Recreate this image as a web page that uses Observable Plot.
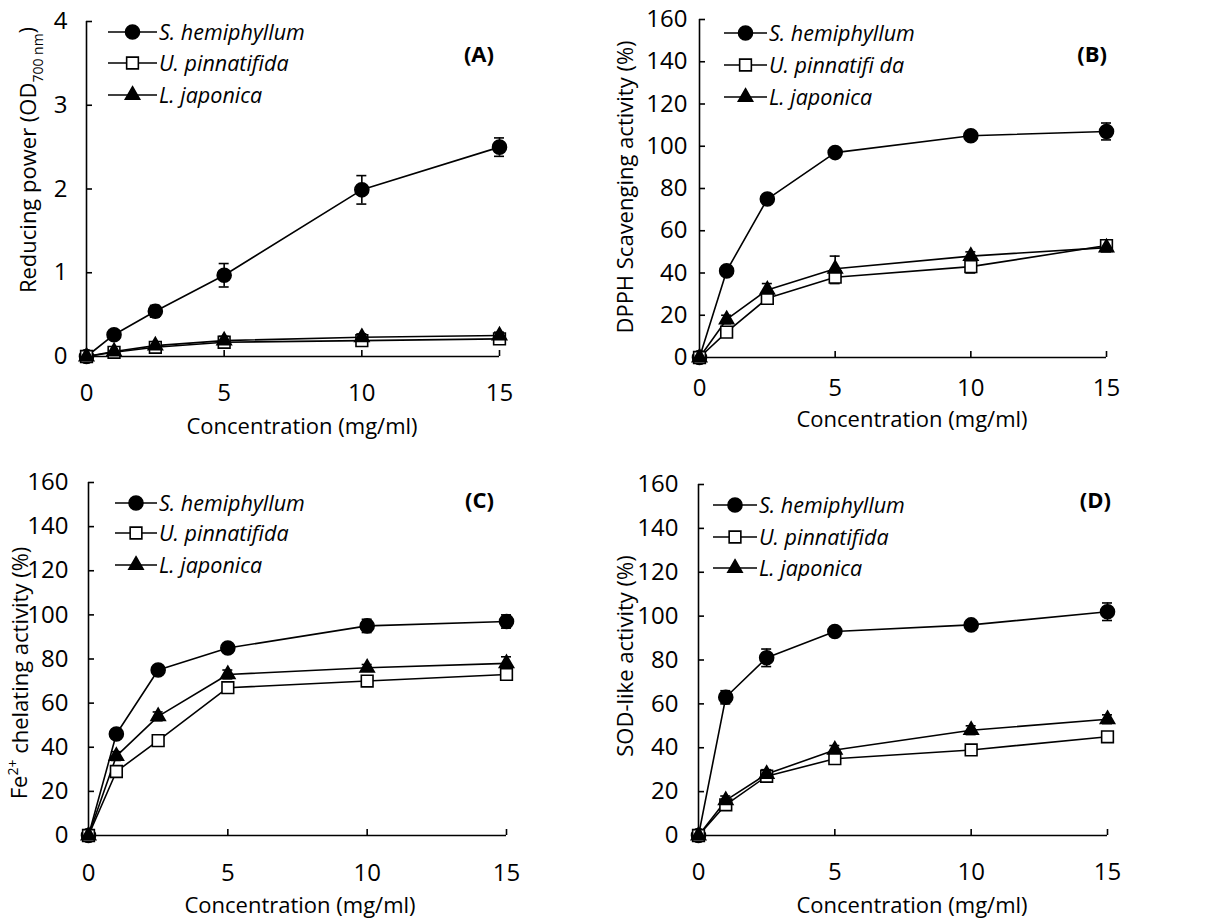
<!DOCTYPE html>
<html><head><meta charset="utf-8">
<script src="https://cdn.jsdelivr.net/npm/d3@7"></script>
<script src="https://cdn.jsdelivr.net/npm/@observablehq/plot@0.6"></script>
<style>
body{margin:0;background:#fff;}
#wrap{position:relative;width:1208px;height:918px;overflow:hidden;background:#fff;}
.panel{position:absolute;}
</style></head><body><div id="wrap"></div>
<script>
// ---- data ----
const conc = [0, 1, 2.5, 5, 10, 15];
const xTicks = [0, 5, 10, 15];
const speciesNames = ["S. hemiphyllum", "U. pinnatifida", "L. japonica"];
const speciesNamesB = ["S. hemiphyllum", "U. pinnatifi da", "L. japonica"];
const xTitle = "Concentration (mg/ml)";

// (A) Reducing power
const reducingTicks = [0, 1, 2, 3, 4];
const reducingS = [0, 0.26, 0.54, 0.97, 1.99, 2.50];
const reducingSErr = [0, 0.03, 0.07, 0.14, 0.17, 0.11];
const reducingU = [0, 0.05, 0.11, 0.17, 0.19, 0.21];
const reducingUErr = [0, 0.03, 0.03, 0.04, 0.04, 0.03];
const reducingL = [0, 0.06, 0.13, 0.19, 0.23, 0.25];
const reducingLErr = [0, 0.02, 0.03, 0.05, 0.04, 0.04];

// (B) DPPH scavenging
const pctTicks = [0, 20, 40, 60, 80, 100, 120, 140, 160];
const dpphS = [0, 41, 75, 97, 105, 107];
const dpphSErr = [0, 1.5, 1.5, 1.5, 1.5, 4];
const dpphU = [0, 12, 28, 38, 43, 53];
const dpphUErr = [0, 2, 2, 3, 3, 2];
const dpphL = [0, 18, 32, 42, 48, 52];
const dpphLErr = [0, 2, 3, 6, 2, 2];

// (C) Fe2+ chelating
const chelS = [0, 46, 75, 85, 95, 97];
const chelSErr = [0, 2, 1.5, 1.5, 3, 3];
const chelU = [0, 29, 43, 67, 70, 73];
const chelUErr = [0, 2, 2, 2, 2, 1.5];
const chelL = [0, 36, 54, 73, 76, 78];
const chelLErr = [0, 2, 2, 2, 1.5, 3];

// (D) SOD-like activity
const sodS = [0, 63, 81, 93, 96, 102];
const sodSErr = [0, 3, 4, 1, 1, 4];
const sodU = [0, 14, 27, 35, 39, 45];
const sodUErr = [0, 2, 2, 1.5, 2, 2];
const sodL = [0, 16, 28, 39, 48, 53];
const sodLErr = [0, 2, 2, 2, 2, 2];

// ---- drawing ----
const FONT = '"Open Sans", sans-serif';
const SW = 1.6;
const TICKFS = 24;
const symbols = [
  {name: "circle", sym: d3.symbolCircle, r: 7, fill: "black"},
  {name: "square", sym: d3.symbolSquare, r: 6.6, fill: "white"},
  {name: "triangle", sym: d3.symbolTriangle, r: 5.3, fill: "black"}
];

function panel(cfg) {
  const rows = [];
  cfg.series.forEach((s, si) => conc.forEach((c, i) =>
    rows.push({sp: si, x: c, y: s.values[i], e: s.errors[i]})));
  const errRows = rows.filter(d => d.e > 0);
  const marks = [
    Plot.line(rows, {x: "x", y: "y", z: "sp", stroke: "black", strokeWidth: SW}),
    Plot.ruleX(errRows, {x: "x", y1: d => d.y - d.e, y2: d => d.y + d.e, stroke: "black", strokeWidth: SW}),
    Plot.ruleY(errRows, {x1: "x", x2: "x", y: d => d.y + d.e, insetLeft: -5, insetRight: -5, stroke: "black", strokeWidth: SW}),
    Plot.ruleY(errRows, {x1: "x", x2: "x", y: d => d.y - d.e, insetLeft: -5, insetRight: -5, stroke: "black", strokeWidth: SW}),
    Plot.ruleY([0], {stroke: "black", strokeWidth: SW}),
    Plot.ruleX([0], {stroke: "black", strokeWidth: SW}),
    Plot.axisX({ticks: xTicks, tickSize: 0, tickPadding: cfg.xPad, label: null, fontSize: TICKFS, tickFormat: d => String(d)}),
    Plot.axisX({ticks: xTicks, tickSize: 6, dy: -6, tickFormat: () => "", label: null, strokeWidth: SW}),
    Plot.axisY({ticks: cfg.yTicks, tickSize: 0, tickPadding: cfg.yPad, label: null, fontSize: TICKFS, tickFormat: d => String(d)}),
    Plot.axisY({ticks: cfg.yTicks, tickSize: 6, dx: 6, tickFormat: () => "", label: null, strokeWidth: SW})
  ];
  symbols.forEach((s, si) => {
    marks.push(Plot.dot(rows.filter(d => d.sp === si), {
      x: "x", y: "y", symbol: s.name, r: s.r, fill: s.fill, stroke: "black", strokeWidth: SW
    }));
  });
  const chart = Plot.plot({
    width: cfg.width, height: cfg.height,
    marginLeft: cfg.ml, marginRight: cfg.mr, marginTop: cfg.mt, marginBottom: cfg.mb,
    x: {domain: [0, 15]},
    y: {domain: [0, cfg.yMax]},
    style: {fontFamily: FONT, fontSize: "22px", color: "black", background: "white", overflow: "visible"},
    marks
  });
  const div = document.createElement("div");
  div.className = "panel";
  div.style.left = cfg.left + "px";
  div.style.top = cfg.top + "px";
  div.appendChild(chart);
  document.getElementById("wrap").appendChild(div);

  const svg = d3.select(chart);
  // legend
  const lg = svg.append("g").attr("text-anchor", "start");
  cfg.names.forEach((n, i) => {
    const y = cfg.legY[i];
    lg.append("line").attr("x1", cfg.legX1).attr("x2", cfg.legX2).attr("y1", y).attr("y2", y)
      .attr("stroke", "black").attr("stroke-width", SW);
    const s = symbols[i];
    lg.append("path").attr("d", d3.symbol(s.sym, s.r * s.r * Math.PI)())
      .attr("transform", `translate(${(cfg.legX1 + cfg.legX2) / 2},${y})`)
      .attr("fill", s.fill).attr("stroke", "black").attr("stroke-width", SW);
    lg.append("text").attr("x", cfg.legX2 + 2).attr("y", y).attr("dy", "0.36em")
      .attr("text-anchor", "start")
      .attr("font-family", FONT).attr("font-style", "italic").attr("font-size", 21.5)
      .attr("fill", "black").text(n);
  });
  // panel label
  svg.append("text").attr("x", cfg.labX).attr("y", cfg.labY).attr("text-anchor", "end")
    .attr("font-family", FONT).attr("font-weight", "bold").attr("font-size", 22)
    .attr("fill", "black").text(cfg.label);
  // x title
  svg.append("text").attr("x", cfg.xtX).attr("y", cfg.xtY).attr("dy", "0.35em").attr("text-anchor", "middle")
    .attr("font-family", FONT).attr("font-size", 22).attr("fill", "black").text(xTitle);
  // y title
  const yt = svg.append("text").attr("transform", `translate(${cfg.ytX},${cfg.ytY}) rotate(-90)`)
    .attr("dy", "0.35em").attr("text-anchor", "middle")
    .attr("font-family", FONT).attr("font-size", 22).attr("fill", "black");
  cfg.yTitle(yt);
}

panel({
  left: 0, top: 0, width: 600, height: 450, ml: 86, mr: 101, mt: 21, mb: 94,
  yMax: 4, yTicks: reducingTicks, xPad: 27, yPad: 19,
  series: [{values: reducingS, errors: reducingSErr}, {values: reducingU, errors: reducingUErr}, {values: reducingL, errors: reducingLErr}],
  names: speciesNames, legX1: 108, legX2: 157, legY: [32, 63, 95],
  label: "(A)", labX: 494, labY: 62,
  xtX: 302, xtY: 426, ytX: 28, ytY: 160,
  yTitle: t => {
    t.append("tspan").text("Reducing power (OD");
    t.append("tspan").attr("font-size", 14).attr("dy", "0.5em").text("700 nm");
    t.append("tspan").attr("dy", "-0.35em").text(")");
  }
});

panel({
  left: 600, top: 0, width: 608, height: 450, ml: 99, mr: 102, mt: 19, mb: 93,
  yMax: 160, yTicks: pctTicks, xPad: 21, yPad: 12,
  series: [{values: dpphS, errors: dpphSErr}, {values: dpphU, errors: dpphUErr}, {values: dpphL, errors: dpphLErr}],
  names: speciesNamesB, legX1: 124, legX2: 167, legY: [33, 65, 97],
  label: "(B)", labX: 507, labY: 62,
  xtX: 312, xtY: 419, ytX: 25, ytY: 187,
  yTitle: t => t.text("DPPH Scavenging activity (%)")
});

panel({
  left: 0, top: 450, width: 600, height: 468, ml: 88, mr: 94, mt: 32, mb: 83,
  yMax: 160, yTicks: pctTicks, xPad: 28, yPad: 20,
  series: [{values: chelS, errors: chelSErr}, {values: chelU, errors: chelUErr}, {values: chelL, errors: chelLErr}],
  names: speciesNames, legX1: 115, legX2: 157, legY: [53, 83, 115],
  label: "(C)", labX: 494, labY: 58,
  xtX: 300, xtY: 455, ytX: 19, ytY: 223,
  yTitle: t => {
    t.append("tspan").text("Fe");
    t.append("tspan").attr("font-size", 14).attr("dy", "-0.6em").text("2+");
    t.append("tspan").attr("dy", "0.45em").text(" chelating activity (%)");
  }
});

panel({
  left: 600, top: 450, width: 608, height: 468, ml: 98, mr: 101, mt: 34, mb: 83,
  yMax: 160, yTicks: pctTicks, xPad: 27, yPad: 20,
  series: [{values: sodS, errors: sodSErr}, {values: sodU, errors: sodUErr}, {values: sodL, errors: sodLErr}],
  names: speciesNames, legX1: 113, legX2: 157, legY: [55, 87, 118],
  label: "(D)", labX: 511, labY: 58,
  xtX: 312, xtY: 455, ytX: 25, ytY: 206,
  yTitle: t => t.text("SOD-like activity (%)")
});
</script>
</body></html>
